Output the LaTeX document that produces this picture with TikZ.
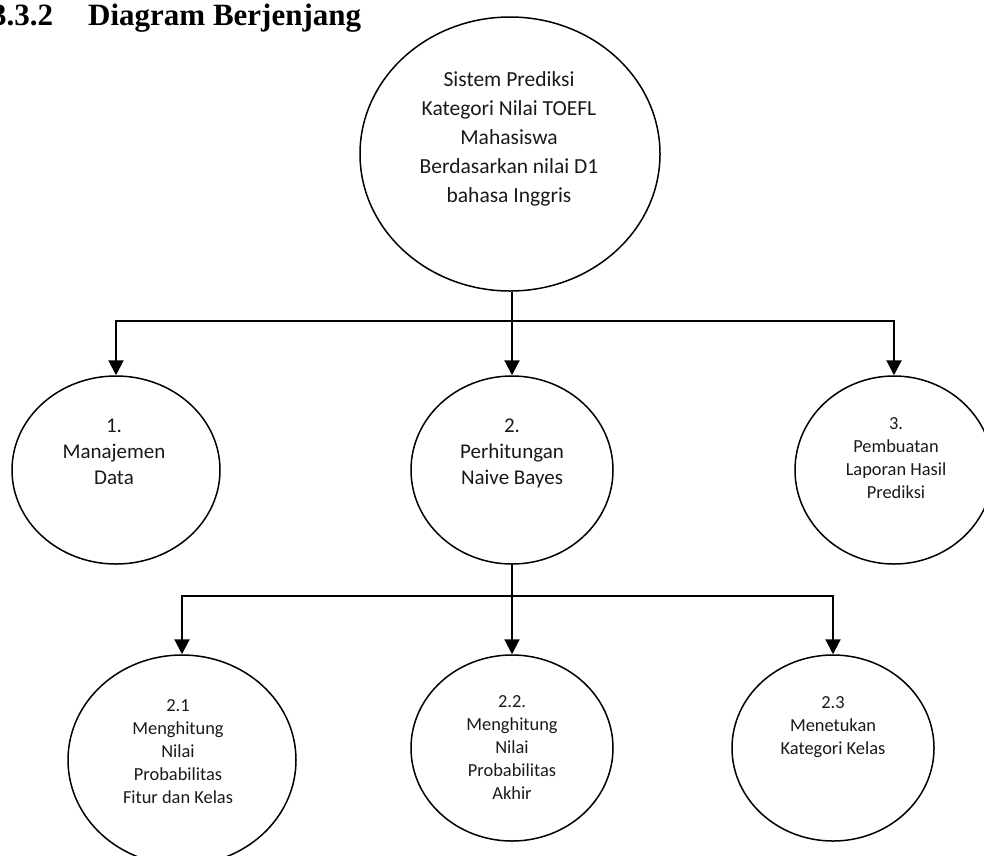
\documentclass[tikz,border=0pt]{standalone}
\usepackage{fontspec}
\setmainfont{Carlito}
\newfontfamily\headfont{Liberation Serif}
\usetikzlibrary{shapes.geometric,arrows.meta}
\begin{document}
\begin{tikzpicture}[x=1pt,y=-1pt,
  proc/.style={draw,ellipse,line width=1.5pt,inner sep=0pt},
  lbl/.style={align=center,anchor=base,inner sep=0pt,text=black!90},
  big/.style={font=\fontsize{21.5}{29}\selectfont},
  mid/.style={font=\fontsize{21}{26}\selectfont},
  small/.style={font=\fontsize{18.4}{23}\selectfont},
  link/.style={line width=2.1pt,-{Triangle[width=15pt,length=15pt]}}]
\useasboundingbox (0,0) rectangle (984,855);

% heading
\node[anchor=base west,inner sep=0pt,font=\headfont\bfseries\fontsize{31}{31}\selectfont] (heading) at (-9,25) {3.3.2\hspace{35pt}Diagram Berjenjang};

% processes
\node[proc,minimum width=300pt,minimum height=274pt] (root) at (510,154) {};
\node[proc,minimum width=208pt,minimum height=188pt] (p1) at (116,470) {};
\node[proc,minimum width=202pt,minimum height=188pt] (p2) at (512,470) {};
\node[proc,minimum width=198pt,minimum height=188pt] (p3) at (894,470) {};
\node[proc,minimum width=228pt,minimum height=210pt] (p21) at (182,760) {};
\node[proc,minimum width=202pt,minimum height=186pt] (p22) at (512,748) {};
\node[proc,minimum width=202pt,minimum height=186pt] (p23) at (833,748) {};

% labels (anchored at the baseline of the last line)
\node[lbl,big] (troot) at (509,202) {Sistem Prediksi\\Kategori Nilai TOEFL\\Mahasiswa\\Berdasarkan nilai D1\\bahasa Inggris};
\node[lbl,mid] (tp1) at (114,484) {1.\\Manajemen\\Data};
\node[lbl,mid] (tp2) at (512,484) {2.\\Perhitungan\\Naive Bayes};
\node[lbl,small] (tp3) at (896,498) {3.\\Pembuatan\\Laporan Hasil\\Prediksi};
\node[lbl,small] (tp21) at (178,803) {2.1\\Menghitung\\Nilai\\Probabilitas\\Fitur dan Kelas};
\node[lbl,small] (tp22) at (512,799) {2.2.\\Menghitung\\Nilai\\Probabilitas\\Akhir};
\node[lbl,small] (tp23) at (833,754) {2.3\\Menetukan\\Kategori Kelas};

% connectors
\coordinate (busA) at (512,321);
\coordinate (busB) at (512,596);
\draw[link] (p2.north |- root.south) -- (p2.north);
\draw[link] (busA) -| (p1.north);
\draw[link] (busA) -| (p3.north);
\draw[link] (p2.south) -- (p22.north);
\draw[link] (busB) -| (p21.north);
\draw[link] (busB) -| (p23.north);
\end{tikzpicture}
\end{document}
